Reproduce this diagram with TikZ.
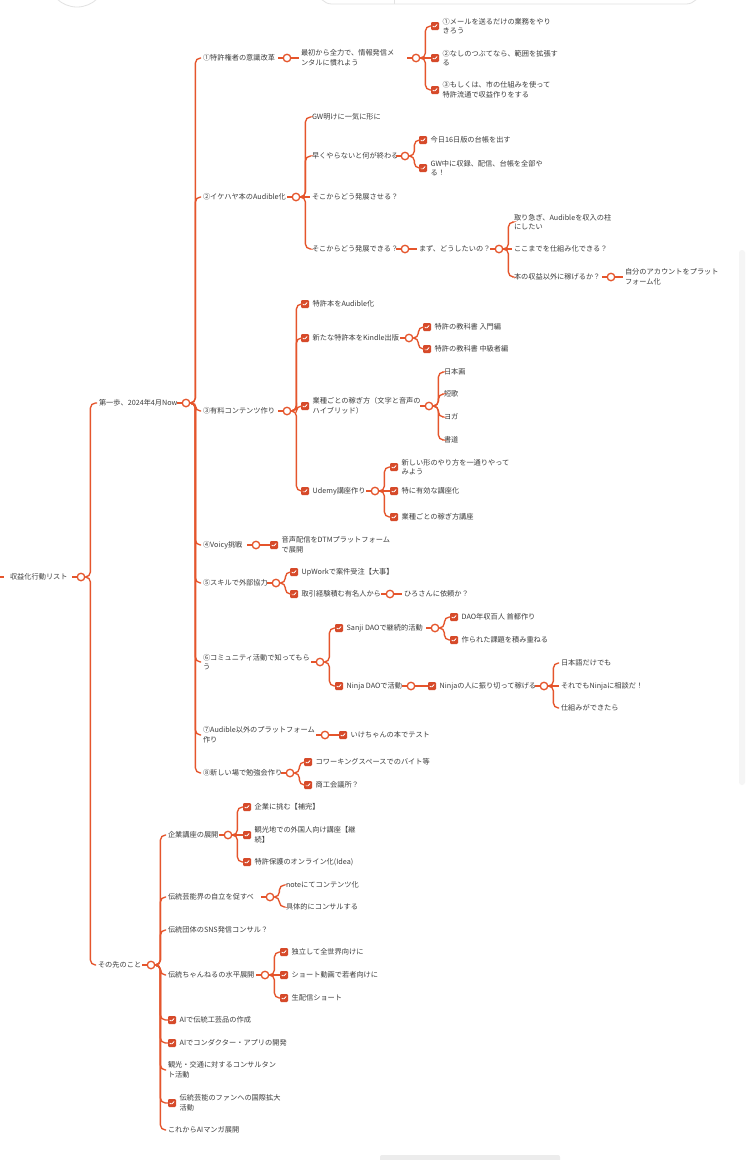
\documentclass[tikz,border=0pt]{standalone}
\usepackage{fontspec}
\newfontfamily\jp{Noto Sans CJK JP}
\usetikzlibrary{positioning,calc}
\definecolor{ln}{HTML}{E5552C}
\definecolor{cbx}{HTML}{D64A2A}
\definecolor{txt}{HTML}{3C3C3C}
\definecolor{ui}{HTML}{E2E2E2}
\tikzset{
 tx/.style={anchor=west, inner sep=0pt, outer sep=2pt, font=\jp\fontsize{7.2}{9.6}\selectfont, text=txt, align=left},
 dot/.style={circle, draw=ln, fill=white, line width=1.3pt, minimum size=7.5pt, inner sep=0pt},
 cb/.style={rectangle, rounded corners=1.2pt, fill=cbx, minimum size=8pt, inner sep=0pt,
   path picture={\draw[white, line width=0.8pt, line cap=round, line join=round]
     ($(path picture bounding box.center)+(-2,0.2)$) -- ++(1.4,1.4) -- ++(2.6,-3);}},
 conn/.style={draw=ln, line width=1.35pt, rounded corners=5pt},
 uil/.style={draw=ui, line width=0.8pt},
}
\newcommand\brc[2]{\draw[conn] (#1.east) -- ++(5,0) |- (#2.west);}
\newcommand\strl[2]{\draw[conn] (#1.east) -- (#2.west);}
\newcommand\tailx[1]{\draw[conn] (#1.west) -- ++(-4.5,0);}
\newcommand\ck[4]{\node[cb] (#1) at (#2,#3) {}; \node[tx, right=1.5pt of #1] (#1t) {#4};}
\begin{document}
\begin{tikzpicture}[x=1pt,y=-1pt]
\useasboundingbox (0,0) rectangle (750,1160);
\fill[white] (0,0) rectangle (750,1160);
% interface remnants
\draw[uil] (77,-22) circle (29);
\draw[uil, rounded corners=14pt] (318,-40) rectangle (700,4);
\draw[uil] (394,-10) -- (394,4);
\fill[gray!8, rounded corners=3pt] (739,250) rectangle (745,785);
\fill[gray!15, rounded corners=2pt] (380,1155) rectangle (560,1163);

% root
\coordinate (s0) at (0,577); \coordinate (s1) at (4,577);
\draw[conn] (s0) -- (s1);
\node[tx] (root) at (8,577) {収益化行動リスト};
\node[dot] (rootd) at (81,577) {}; \tailx{rootd}

% branch 1
\node[tx] (b1) at (97,403) {第一歩、2024年4月Now};
\node[dot] (b1d) at (186,403) {}; \tailx{b1d}

\node[tx] (c1) at (201,58) {①特許権者の意識改革};
\node[dot] (c1d) at (287,58) {}; \tailx{c1d}
\node[tx] (c1a) at (299,58) {最初から全力で、情報発信メ\\ンタルに慣れよう};
\node[dot] (c1ad) at (416,58) {}; \tailx{c1ad}
\ck{c1a1}{435}{26}{①メールを送るだけの業務をやり\\きろう}
\ck{c1a2}{435}{58}{②なしのつぶてなら、範囲を拡張す\\る}
\ck{c1a3}{435}{90}{③もしくは、市の仕組みを使って\\特許流通で収益作りをする}

\node[tx] (c2) at (201,197) {②イケハヤ本のAudible化};
\node[dot] (c2d) at (296,197) {}; \tailx{c2d}
\node[tx] (c2a) at (310,117) {GW明けに一気に形に};
\node[tx] (c2b) at (310,156) {早くやらないと何が終わる};
\node[dot] (c2bd) at (405,156) {}; \tailx{c2bd}
\ck{c2b1}{423}{140}{今日16日版の台帳を出す}
\ck{c2b2}{423}{168}{GW中に収録、配信、台帳を全部や\\る！}
\node[tx] (c2c) at (310,197) {そこからどう発展させる？};
\node[tx] (c2g) at (310,249) {そこからどう発展できる？};
\node[dot] (c2gd) at (405,249) {}; \tailx{c2gd}
\node[tx] (c2e) at (417,249) {まず、どうしたいの？};
\node[dot] (c2ed) at (499,249) {}; \tailx{c2ed}
\node[tx] (c2e1) at (512,222) {取り急ぎ、Audibleを収入の柱\\にしたい};
\node[tx] (c2e2) at (512,249) {ここまでを仕組み化できる？};
\node[tx] (c2e3) at (512,277) {本の収益以外に稼げるか？};
\node[dot] (c2e3d) at (611,277) {}; \tailx{c2e3d}
\node[tx] (c2f) at (623,277) {自分のアカウントをプラット\\フォーム化};

\node[tx] (c3) at (201,411) {③有料コンテンツ作り};
\node[dot] (c3d) at (287,411) {}; \tailx{c3d}
\ck{c3a}{305}{304}{特許本をAudible化}
\ck{c3b}{305}{338}{新たな特許本をKindle出版}
\node[dot] (c3bd) at (409,338) {}; \tailx{c3bd}
\ck{c3b1}{427}{327}{特許の教科書 入門編}
\ck{c3b2}{427}{349}{特許の教科書 中級者編}
\ck{c3c}{305}{406}{業種ごとの稼ぎ方（文字と音声の\\ハイブリッド）}
\node[dot] (c3cd) at (429,406) {}; \tailx{c3cd}
\node[tx] (c3c1) at (442,372) {日本画};
\node[tx] (c3c2) at (442,394) {短歌};
\node[tx] (c3c3) at (442,417) {ヨガ};
\node[tx] (c3c4) at (442,440) {書道};
\ck{c3e}{305}{491}{Udemy講座作り}
\node[dot] (c3ed) at (375,491) {}; \tailx{c3ed}
\ck{c3e1}{394}{467}{新しい形のやり方を一通りやって\\みよう}
\ck{c3e2}{394}{491}{特に有効な講座化}
\ck{c3e3}{394}{517}{業種ごとの稼ぎ方講座}

\node[tx] (c4) at (201,545) {④Voicy挑戦};
\node[dot] (c4d) at (256,545) {}; \tailx{c4d}
\ck{c4a}{274}{545}{音声配信をDTMプラットフォーム\\で展開}

\node[tx] (c5) at (201,583) {⑤スキルで外部協力};
\node[dot] (c5d) at (276,583) {}; \tailx{c5d}
\ck{c5a}{294}{572}{UpWorkで案件受注【大事】}
\ck{c5b}{294}{594}{取引経験積む有名人から}
\node[dot] (c5bd) at (390,594) {}; \tailx{c5bd}
\node[tx] (c5c) at (402,594) {ひろさんに依頼か？};

\node[tx] (c6) at (201,662) {⑥コミュニティ活動で知ってもら\\う};
\node[dot] (c6d) at (320,662) {}; \tailx{c6d}
\ck{c6a}{339}{628}{Sanji DAOで継続的活動}
\node[dot] (c6ad) at (435,628) {}; \tailx{c6ad}
\ck{c6a1}{454}{617}{DAO年収百人 首都作り}
\ck{c6a2}{454}{640}{作られた課題を積み重ねる}
\ck{c6b}{339}{686}{Ninja DAOで活動}
\node[dot] (c6bd) at (411,686) {}; \tailx{c6bd}
\ck{c6c}{432}{686}{Ninjaの人に振り切って稼げる}
\node[dot] (c6cd) at (544,686) {}; \tailx{c6cd}
\node[tx] (c6c1) at (559,663) {日本語だけでも};
\node[tx] (c6c2) at (559,686) {それでもNinjaに相談だ！};
\node[tx] (c6c3) at (559,708) {仕組みができたら};

\node[tx] (c7) at (201,735) {⑦Audible以外のプラットフォーム\\作り};
\node[dot] (c7d) at (325,735) {}; \tailx{c7d}
\ck{c7a}{343}{735}{いけちゃんの本でテスト}

\node[tx] (c8) at (201,773) {⑧新しい場で勉強会作り};
\node[dot] (c8d) at (290,773) {}; \tailx{c8d}
\ck{c8a}{308}{762}{コワーキングスペースでのバイト等}
\ck{c8b}{308}{785}{商工会議所？}

% branch 2
\node[tx] (b2) at (96,965) {その先のこと};
\node[dot] (b2d) at (151,965) {}; \tailx{b2d}
\node[tx] (d1) at (166,835) {企業講座の展開};
\node[dot] (d1d) at (228,835) {}; \tailx{d1d}
\ck{d1a}{247}{807}{企業に挑む【補完】}
\ck{d1b}{247}{835}{観光地での外国人向け講座【継\\続】}
\ck{d1c}{247}{862}{特許保護のオンライン化(Idea)}
\node[tx] (d2) at (166,897) {伝統芸能界の自立を促すべ};
\node[dot] (d2d) at (270,897) {}; \tailx{d2d}
\node[tx] (d2a) at (284,885) {noteにてコンテンツ化};
\node[tx] (d2b) at (284,907) {具体的にコンサルする};
\node[tx] (d3) at (166,930) {伝統団体のSNS発信コンサル？};
\node[tx] (d4) at (166,975) {伝統ちゃんねるの水平展開};
\node[dot] (d4d) at (265,975) {}; \tailx{d4d}
\ck{d4a}{284}{952}{独立して全世界向けに}
\ck{d4b}{284}{975}{ショート動画で若者向けに}
\ck{d4c}{284}{998}{生配信ショート}
\ck{d5}{172}{1020}{AIで伝統工芸品の作成}
\ck{d6}{172}{1043}{AIでコンダクター・アプリの開発}
\node[tx] (d7) at (166,1070) {観光・交通に対するコンサルタン\\ト活動};
\ck{d8}{172}{1103}{伝統芸能のファンへの国際拡大\\活動}
\node[tx] (d9) at (166,1130) {これからAIマンガ展開};

% connectors
\brc{rootd}{b1} \brc{rootd}{b2}
\foreach \n in {c1,c2,c3,c4,c5,c6,c7,c8} {\brc{b1d}{\n}}
\strl{c1d}{c1a}
\brc{c1ad}{c1a1} \strl{c1ad}{c1a2} \brc{c1ad}{c1a3}
\brc{c2d}{c2a} \brc{c2d}{c2b} \strl{c2d}{c2c} \brc{c2d}{c2g}
\brc{c2bd}{c2b1} \brc{c2bd}{c2b2}
\strl{c2gd}{c2e}
\brc{c2ed}{c2e1} \strl{c2ed}{c2e2} \brc{c2ed}{c2e3}
\strl{c2e3d}{c2f}
\brc{c3d}{c3a} \brc{c3d}{c3b} \brc{c3d}{c3c} \brc{c3d}{c3e}
\brc{c3bd}{c3b1} \brc{c3bd}{c3b2}
\brc{c3cd}{c3c1} \brc{c3cd}{c3c2} \brc{c3cd}{c3c3} \brc{c3cd}{c3c4}
\brc{c3ed}{c3e1} \strl{c3ed}{c3e2} \brc{c3ed}{c3e3}
\strl{c4d}{c4a}
\brc{c5d}{c5a} \brc{c5d}{c5b} \strl{c5bd}{c5c}
\brc{c6d}{c6a} \brc{c6d}{c6b}
\brc{c6ad}{c6a1} \brc{c6ad}{c6a2}
\strl{c6bd}{c6c}
\brc{c6cd}{c6c1} \strl{c6cd}{c6c2} \brc{c6cd}{c6c3}
\strl{c7d}{c7a}
\brc{c8d}{c8a} \brc{c8d}{c8b}
\foreach \n in {d1,d2,d3,d4,d5,d6,d7,d8,d9} {\brc{b2d}{\n}}
\brc{d1d}{d1a} \strl{d1d}{d1b} \brc{d1d}{d1c}
\brc{d2d}{d2a} \brc{d2d}{d2b}
\brc{d4d}{d4a} \strl{d4d}{d4b} \brc{d4d}{d4c}
\end{tikzpicture}
\end{document}
